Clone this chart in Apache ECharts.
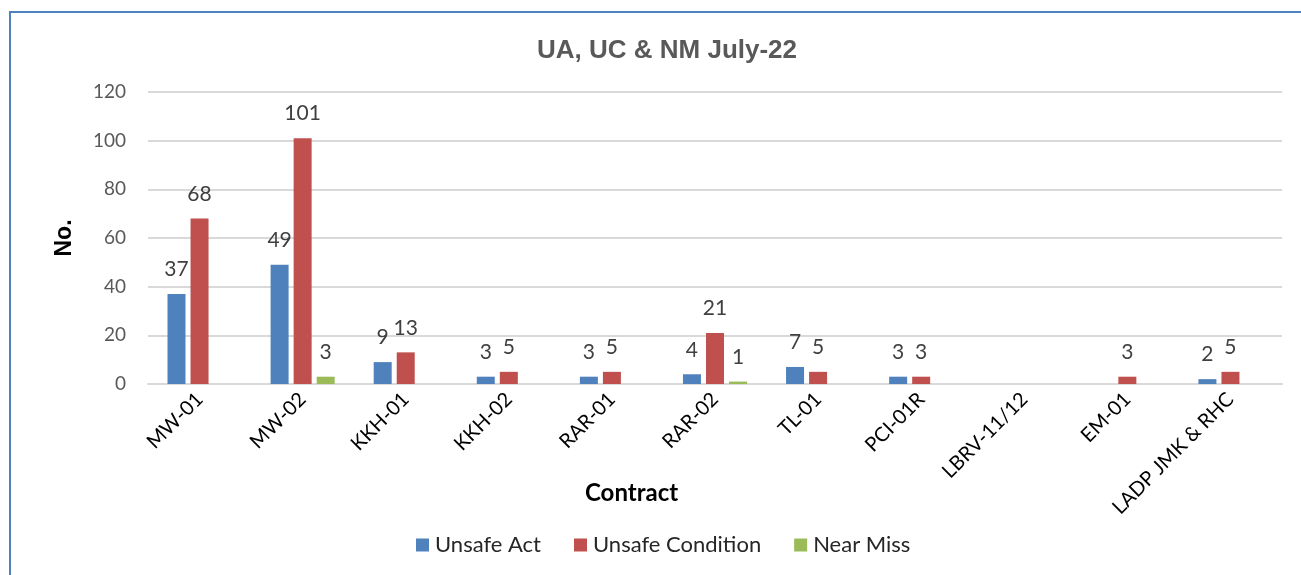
<!DOCTYPE html>
<html>
<head>
<meta charset="utf-8">
<script src="https://cdn.jsdelivr.net/npm/echarts@6/dist/echarts.min.js"></script>
<style>
  html, body { margin: 0; padding: 0; background: #fff; overflow: hidden; }
  #chart { position: absolute; left: 0; top: 0; width: 1301px; height: 575px; }
  #frame { position: absolute; left: 9px; top: 11px; width: 1400px; height: 700px;
           border: 2px solid #4f81bd; pointer-events: none; }
</style>
</head>
<body>
<div id="chart"></div>
<div id="frame"></div>
<script>
// contracts on the x axis
const categories = ['MW-01', 'MW-02', 'KKH-01', 'KKH-02', 'RAR-01', 'RAR-02', 'TL-01', 'PCI-01R', 'LBRV-11/12', 'EM-01', 'LADP JMK & RHC']
// blank cells are null (no bar, no label)
const unsafeAct = [37, 49, 9, 3, 3, 4, 7, 3, null, null, 2]
const unsafeCondition = [68, 101, 13, 5, 5, 21, 5, 3, null, 3, 5]
const nearMiss = [null, 3, null, null, null, 1, null, null, null, null, null]
const yTicks = { min: 0, max: 120, interval: 20 }

const font = 'Lato, "Open Sans", sans-serif'
const arial = '"Liberation Sans", Arial, sans-serif'

function barSeries(name, data, color) {
    return {
        name: name,
        type: 'bar',
        data: data,
        barWidth: 18,
        barGap: '28%',
        itemStyle: { color: color },
        label: {
            show: true,
            position: 'top',
            distance: 14,
            color: '#404040',
            fontSize: 21,
            fontFamily: font
        }
    }
}

const chart = echarts.init(document.getElementById('chart'))
chart.setOption({
    animation: false,
    title: {
        text: 'UA, UC & NM July-22',
        left: 662,
        top: 33,
        textAlign: 'center',
        textStyle: { color: '#595959', fontSize: 26, fontWeight: 'bold', fontFamily: arial }
    },
    grid: { left: 148, right: 19, top: 92, bottom: 191 },
    legend: {
        top: 529,
        left: 411,
        itemWidth: 13,
        itemHeight: 13,
        itemGap: 33,
        icon: 'rect',
        textStyle: { color: '#262626', fontSize: 22, fontFamily: font, padding: [0, 0, 0, 1] },
        data: ['Unsafe Act', 'Unsafe Condition', 'Near Miss']
    },
    xAxis: {
        type: 'category',
        data: categories,
        axisTick: { show: false },
        axisLine: { lineStyle: { color: '#d9d9d9', width: 2 } },
        axisLabel: {
            interval: 0,
            rotate: 45,
            margin: 12,
            color: '#000',
            fontSize: 20,
            fontFamily: font
        }
    },
    yAxis: {
        type: 'value',
        min: yTicks.min,
        max: yTicks.max,
        interval: yTicks.interval,
        name: 'No.',
        nameLocation: 'middle',
        nameGap: 72,
        nameTextStyle: { color: '#000', fontSize: 23, fontWeight: 'bold', fontFamily: arial },
        axisLine: { show: false },
        axisTick: { show: false },
        splitLine: { lineStyle: { color: '#d9d9d9', width: 2 } },
        axisLabel: { margin: 22, color: '#595959', fontSize: 19, fontFamily: font }
    },
    graphic: [{
        type: 'text',
        left: 585,
        top: 481,
        style: { text: 'Contract', fill: '#000', fontSize: 24, fontWeight: 'bold', fontFamily: font }
    }],
    series: [
        barSeries('Unsafe Act', unsafeAct, '#4f81bd'),
        barSeries('Unsafe Condition', unsafeCondition, '#c0504d'),
        barSeries('Near Miss', nearMiss, '#9bbb59')
    ]
})
</script>
</body>
</html>
